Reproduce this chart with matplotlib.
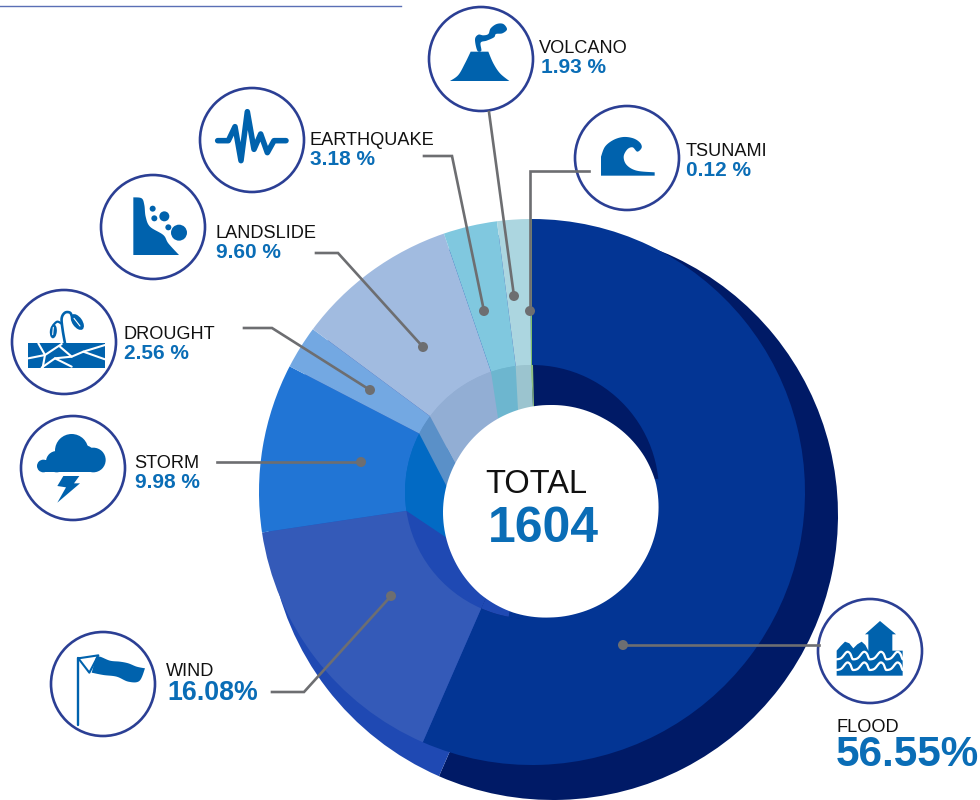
import numpy as np
import matplotlib
matplotlib.use("Agg")
import matplotlib.pyplot as plt
from matplotlib.patches import Circle, Ellipse, Polygon, Wedge

plt.rcParams["font.family"] = ["Liberation Sans", "DejaVu Sans"]

# data
hazards = ["FLOOD", "WIND", "STORM", "DROUGHT", "LANDSLIDE", "EARTHQUAKE", "VOLCANO", "TSUNAMI"]
shares = [56.55, 16.08, 9.98, 2.56, 9.60, 3.18, 1.93, 0.12]
share_labels = ["56.55%", "16.08%", "9.98 %", "2.56 %", "9.60 %", "3.18 %", "1.93 %", "0.12 %"]
total_label = "1604"

# colours, same order as hazards
top_colors = ["#033594", "#345ab8", "#2175d5", "#73a8e2", "#a1bbe0", "#80c8df", "#acd6e0", "#7fbf6a"]
inner_colors = ["#001a66", "#1f49b3", "#026ac4", "#5a90c8", "#92aed4", "#6db6cf", "#9bc4cf", "#8fbf80"]
base_colors = ["#001a66", "#1f49b3", "#1f49b3", "#1f49b3", "#1f49b3", "#1f49b3", "#1f49b3", "#1f49b3"]

BLUE = "#0062ad"
TEXT_BLUE = "#0a6db6"
RING = "#2b3f94"
GREY = "#6d6e71"
H = 800
CENTER = (532, 492)
INNER_R = 127


def P(x, y):
    # picture pixels (y down) to axes units (y up)
    return x, H - y


def Z(pts, ox, oy):
    return [P(ox + x / 3, oy + y / 3) for x, y in pts]


def smooth(pts, closed=False, n=8):
    # catmull-rom through outline points, only for drawing icon shapes
    pts = np.array(pts, dtype=float)
    if closed:
        pts = np.vstack([pts[-1], pts, pts[:2]])
    else:
        pts = np.vstack([pts[0], pts, pts[-1]])
    out = []
    for i in range(1, len(pts) - 2):
        p0, p1, p2, p3 = pts[i - 1], pts[i], pts[i + 1], pts[i + 2]
        for t in np.linspace(0, 1, n, endpoint=False):
            out.append(0.5 * (2 * p1 + (p2 - p0) * t + (2 * p0 - 5 * p1 + 4 * p2 - p3) * t ** 2
                              + (3 * p1 - p0 - 3 * p2 + p3) * t ** 3))
    if not closed:
        out.append(pts[-2])
    return [tuple(p) for p in out]


fig = plt.figure(figsize=(9.8, 8), dpi=100)
ax = fig.add_axes([0, 0, 1, 1])

# stacked pies: shadow, top face, inner ring
ax.pie(shares, colors=base_colors, center=P(553, 515), radius=285, startangle=90, counterclock=False, normalize=True)
ax.pie(shares, colors=top_colors, center=P(*CENTER), radius=273, startangle=90, counterclock=False, normalize=True)
ax.pie(shares, colors=inner_colors, center=P(*CENTER), radius=INNER_R, startangle=90, counterclock=False, normalize=True)

# the flood part of the ring is only dark near the top
flood_end = 90 - shares[0] * 3.6
ax.add_patch(Wedge(P(*CENTER), INNER_R + 0.5, flood_end + 13, 6, fc=top_colors[0], ec="none"))
ax.add_patch(Wedge(P(*CENTER), INNER_R, flood_end, flood_end + 13, fc=inner_colors[1], ec="none"))

# the ring's slice edges fan towards the hole instead of the pie centre
hole_ends = [(444, 536), (447, 487), (455, 463), (498, 418), (518, 410), (533, 407), (534, 407)]
cum = np.cumsum(shares) / sum(shares) * 2 * np.pi
rim = [(CENTER[0] + INNER_R * np.sin(a), CENTER[1] - INNER_R * np.cos(a)) for a in cum[1:-1]]
rim.append((CENTER[0] + 1, CENTER[1] - INNER_R))
clip = Circle(P(*CENTER), INNER_R, transform=ax.transData)
for i in range(6):
    a0, a1 = np.array(rim[i]), np.array(hole_ends[i])
    b0, b1 = np.array(rim[i + 1]), np.array(hole_ends[i + 1])
    corners = [a0 + (a0 - a1) * 1.2, a1 + (a1 - a0) * 0.3, b1 + (b1 - b0) * 0.3, b0 + (b0 - b1) * 1.2]
    patch = Polygon([P(*c) for c in corners], closed=True, fc=inner_colors[i + 2], ec="none", zorder=2)
    ax.add_patch(patch)
    patch.set_clip_path(clip)

# hole is a slightly uneven circle: direction clockwise from top, radius
hole_dirs = [0, 30, 60, 75, 90, 120, 140, 165, 180, 200, 220, 245, 270, 300, 330, 360]
hole_radii = [106, 107, 109, 109.5, 108.5, 106.5, 106, 106, 106.5, 108, 108.5, 107.5, 107, 106, 106, 106]
sweep = np.arange(0, 360, 2)
sweep_r = np.interp(sweep, hole_dirs, hole_radii)
hole = np.column_stack([550 + sweep_r * np.sin(np.radians(sweep)), H - 511 + sweep_r * np.cos(np.radians(sweep))])
ax.add_patch(Polygon(hole, closed=True, fc="white", ec="none", zorder=3))

ax.set_xlim(0, 980)
ax.set_ylim(0, H)
ax.set_aspect("equal")
ax.axis("off")

ax.plot([0, 401], [H - 6, H - 6], color="#5a6fb5", lw=1.0)

# icon circles
circles = {
    "FLOOD": (870, 651), "WIND": (103, 684), "STORM": (73, 468), "DROUGHT": (64, 342),
    "LANDSLIDE": (153, 227), "EARTHQUAKE": (252, 140), "VOLCANO": (481, 59), "TSUNAMI": (627, 158),
}
for name in hazards:
    ax.add_patch(Circle(P(*circles[name]), 52, fc="white", ec=RING, lw=1.9, zorder=4))

# leader lines, dot end first
leaders = {
    "FLOOD": [(623, 645), (819, 645)],
    "WIND": [(391, 596), (304, 692), (272, 692)],
    "STORM": [(361, 462), (217, 462)],
    "DROUGHT": [(370, 390), (272, 328), (244, 328)],
    "LANDSLIDE": [(423, 347), (338, 253), (316, 253)],
    "EARTHQUAKE": [(484, 311), (452, 156), (424, 156)],
    "VOLCANO": [(514, 296), (489, 112)],
    "TSUNAMI": [(530, 311), (530, 171), (589, 171)],
}
for name in hazards:
    pts = [P(*p) for p in leaders[name]]
    ax.plot([p[0] for p in pts], [p[1] for p in pts], color=GREY, lw=1.9, zorder=5, solid_joinstyle="miter")
    ax.add_patch(Circle(pts[0], 5, fc=GREY, ec="none", zorder=5))


def blob(pts, ox, oy, z=6):
    ax.add_patch(Polygon(Z(pts, ox, oy), closed=True, fc=BLUE, ec="none", zorder=z))


def stroke(pts, ox, oy, lw, color=BLUE, z=6):
    xy = Z(pts, ox, oy)
    ax.plot([p[0] for p in xy], [p[1] for p in xy], color=color, lw=lw, zorder=z,
            solid_capstyle="round", solid_joinstyle="round")


def dot(x, y, r, ox, oy):
    ax.add_patch(Circle(Z([(x, y)], ox, oy)[0], r / 3, fc=BLUE, ec="none", zorder=6))


# volcano
blob([(90, 243)] + smooth([(90, 243), (115, 225), (135, 190), (152, 155)]) + [(205, 155)]
     + smooth([(205, 155), (220, 190), (240, 220), (268, 243)]), 420, 0)
blob(smooth([(172, 152), (184, 152), (182, 128), (200, 122), (222, 112), (228, 102), (247, 100), (261, 88),
             (250, 72), (230, 72), (212, 85), (205, 102), (190, 106), (175, 104), (165, 118)], closed=True), 420, 0)

# tsunami
blob([(543, 527)] + smooth([(543, 470), (555, 440), (580, 420), (610, 411), (640, 415), (660, 428), (665, 443),
                            (652, 455), (638, 442), (622, 448), (611, 470), (620, 495), (650, 512), (704, 517)])
     + [(704, 527)], 420, 0)

# earthquake
stroke([(653, 152), (685, 152), (705, 110), (723, 212), (742, 65), (762, 178), (782, 132), (802, 188),
        (822, 152), (858, 152)], 0, 90, 4.0)

# landslide
blob([(400, 322)] + smooth([(400, 322), (425, 325), (433, 345), (437, 380), (450, 410), (490, 435), (505, 460),
                            (537, 495)]) + [(400, 495)], 0, 90)
dot(537, 428, 24, 0, 90)
dot(493, 379, 15, 0, 90)
dot(505, 412, 9, 0, 90)
dot(458, 356, 9, 0, 90)
dot(463, 385, 9, 0, 90)

# drought
blob([(85, 760), (315, 760), (315, 833), (85, 833)], 0, 90)
for crack in ([(115, 760), (135, 795), (85, 805)], [(135, 795), (128, 833)],
              [(135, 795), (185, 762)], [(180, 770), (215, 800), (250, 785), (315, 765)],
              [(165, 805), (215, 830)], [(215, 800), (165, 805), (125, 833)], [(250, 785), (315, 808)]):
    stroke(crack, 0, 90, 1.5, "white", 7)
stroke(smooth([(195, 760), (188, 720), (185, 685), (195, 668), (210, 668), (216, 680)]), 0, 90, 1.9)
stroke(smooth([(186, 702), (172, 695), (160, 705)]), 0, 90, 1.6)
ax.add_patch(Ellipse(Z([(232, 696)], 0, 90)[0], 10, 18, angle=35, fc=BLUE, ec="none", zorder=6))
ax.add_patch(Ellipse(Z([(160, 724)], 0, 90)[0], 7, 14, angle=-5, fc=BLUE, ec="none", zorder=6))
stroke([(222, 685), (240, 708)], 0, 90, 0.8, "white", 7)
stroke([(160, 712), (158, 734)], 0, 90, 0.8, "white", 7)

# storm
dot(215, 152, 50, 0, 400)
dot(280, 180, 37, 0, 400)
dot(250, 175, 40, 0, 400)
dot(170, 185, 32, 0, 400)
dot(130, 198, 19, 0, 400)
blob([(130, 180), (285, 180), (285, 217), (130, 217)], 0, 400)
blob([(190, 228), (238, 228), (222, 250), (240, 250), (172, 308), (198, 262), (172, 258)], 0, 400)

# wind
stroke([(235, 775), (235, 976)], 0, 400, 1.7)
stroke([(235, 775), (295, 766), (268, 818), (235, 775)], 0, 400, 1.5)
blob(smooth([(288, 772), (300, 770), (330, 782), (360, 785), (385, 790), (410, 800), (435, 805)])
     + smooth([(435, 805), (418, 843), (385, 845), (350, 830), (310, 825), (275, 818)]), 0, 400)

# flood: solid block with two rows of white waves cut into it
blob([(255, 163), (300, 123), (348, 163), (337, 163), (337, 215), (265, 215), (265, 163)], 780, 580)
block = [(170, 287), (170, 212), (182, 198), (195, 185), (208, 190), (220, 205), (232, 193), (245, 185),
         (256, 195), (265, 212), (368, 212), (368, 287)]
blob(block, 780, 580)
for row_y in (238, 270):
    wave = []
    for cx in (170, 220, 270, 320):
        wave += [(cx, row_y), (cx + 14, row_y - 4), (cx + 30, row_y - 22), (cx + 40, row_y - 18), (cx + 46, row_y - 4)]
    wave.append((368, row_y))
    stroke(smooth(wave, n=4), 780, 580, 1.6, "white", 7)

# labels: x, baseline of name, baseline of share
name_pos = {
    "FLOOD": (836, 732), "WIND": (166, 676), "STORM": (134, 468), "DROUGHT": (123, 339),
    "LANDSLIDE": (215, 238), "EARTHQUAKE": (309, 145), "VOLCANO": (539, 53), "TSUNAMI": (686, 156),
}
share_pos = {
    "FLOOD": (836, 766), "WIND": (167, 700), "STORM": (135, 488), "DROUGHT": (124, 359),
    "LANDSLIDE": (216, 258), "EARTHQUAKE": (310, 165), "VOLCANO": (541, 73), "TSUNAMI": (686, 176),
}
share_size = {"FLOOD": 30.4, "WIND": 19.3}
for name, label in zip(hazards, share_labels):
    ax.text(*P(*name_pos[name]), name, fontsize=13.1, color="#111111", va="baseline", ha="left", zorder=8)
    ax.text(*P(*share_pos[name]), label, fontsize=share_size.get(name, 15), fontweight="bold",
            color=TEXT_BLUE, va="baseline", ha="left", zorder=8)

ax.text(*P(485, 493), "TOTAL", fontsize=23.5, color="#111111", va="baseline", ha="left", zorder=8)
ax.text(*P(488, 542), total_label, fontsize=36, fontweight="bold", color=TEXT_BLUE, va="baseline", ha="left", zorder=8)

fig.savefig("out.png", dpi=100, facecolor="white")
